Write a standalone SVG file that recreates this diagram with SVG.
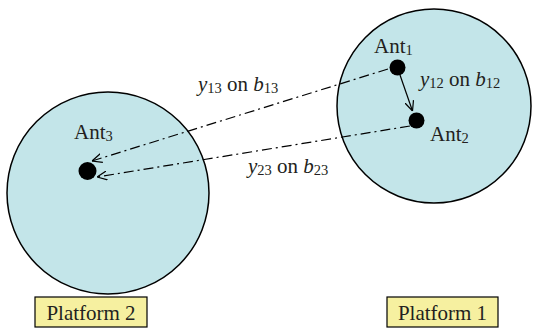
<svg xmlns="http://www.w3.org/2000/svg" width="533" height="332" viewBox="0 0 533 332">
<defs>
<marker id="arr" viewBox="0 0 10 10" refX="10" refY="5" markerWidth="10" markerHeight="10" markerUnits="userSpaceOnUse" orient="auto">
<path d="M0,0.5 L10,5 L0,9.5" fill="none" stroke="#000" stroke-width="1.2"/>
</marker>
</defs>
<style>
.plat{fill:#c3e5e9;stroke:#000;stroke-width:1.5}
.dot{fill:#000}
.lbl{font-family:"Liberation Serif","Times New Roman",serif;font-size:21px;fill:#231f20}
.it{font-style:italic}
.sub{font-size:14.5px}
.box{fill:#f6f0a0;stroke:#000;stroke-width:1.2}
.dd{fill:none;stroke:#000;stroke-width:1.2;stroke-dasharray:10 4 2 4}
.solid{fill:none;stroke:#000;stroke-width:1.2}
</style>
<g id="platform2">
<circle class="plat" cx="108" cy="193" r="101"/>
<rect class="box" x="35" y="297" width="112" height="30"/>
<text class="lbl" x="91" y="319.5" text-anchor="middle">Platform 2</text>
</g>
<g id="platform1">
<circle class="plat" cx="434" cy="106" r="97"/>
<rect class="box" x="387" y="297" width="111" height="30"/>
<text class="lbl" x="442.5" y="319.5" text-anchor="middle">Platform 1</text>
</g>
<g id="ant1">
<circle class="dot" cx="397.5" cy="67.5" r="8"/>
<text class="lbl" x="374" y="53">Ant<tspan class="sub" dy="2">1</tspan></text>
</g>
<g id="ant2">
<circle class="dot" cx="416.5" cy="120.5" r="8"/>
<text class="lbl" x="430" y="141">Ant<tspan class="sub" dy="2">2</tspan></text>
</g>
<g id="ant3">
<circle class="dot" cx="87.5" cy="171" r="9"/>
<text class="lbl" x="74" y="139">Ant<tspan class="sub" dy="2">3</tspan></text>
</g>
<g id="connectors">
<line class="solid" x1="400" y1="75" x2="412.5" y2="111" marker-end="url(#arr)"/>
<line class="dd" x1="388" y1="69" x2="92" y2="161" marker-end="url(#arr)"/>
<line class="dd" x1="410" y1="126" x2="97" y2="177" marker-end="url(#arr)"/>
<text class="lbl" x="420" y="86"><tspan class="it">y</tspan><tspan class="sub" dy="2">12</tspan><tspan dy="-2"> on </tspan><tspan class="it">b</tspan><tspan class="sub" dy="2">12</tspan></text>
<text class="lbl" x="198" y="91"><tspan class="it">y</tspan><tspan class="sub" dy="2">13</tspan><tspan dy="-2"> on </tspan><tspan class="it">b</tspan><tspan class="sub" dy="2">13</tspan></text>
<text class="lbl" x="248" y="173"><tspan class="it">y</tspan><tspan class="sub" dy="2">23</tspan><tspan dy="-2"> on </tspan><tspan class="it">b</tspan><tspan class="sub" dy="2">23</tspan></text>
</g>
</svg>
